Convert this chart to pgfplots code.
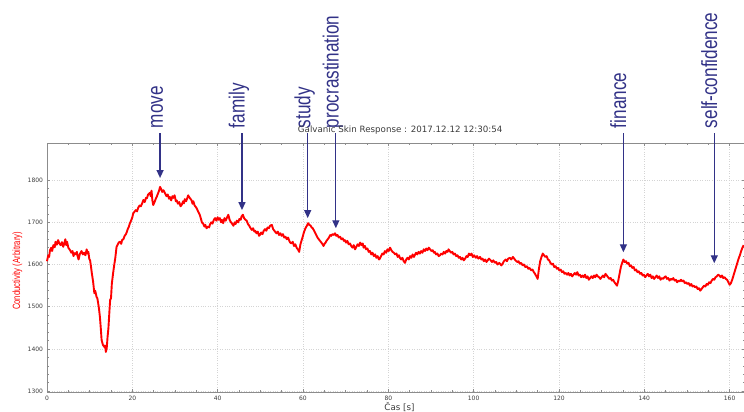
\documentclass[border=0pt]{standalone}
\usepackage{fontspec}
\setmainfont{DejaVu Sans}
\newfontfamily\libsans{Liberation Sans}
\usepackage{pgfplots}
\pgfplotsset{compat=1.18}
\usetikzlibrary{arrows.meta}
\definecolor{annot}{RGB}{50,50,135}
\definecolor{axgray}{RGB}{140,140,140}
\definecolor{gridgray}{RGB}{212,212,212}
\definecolor{ticktext}{RGB}{60,60,60}
\pgfplotstableread{
x v
0.0 1608
0.3 1622
0.5 1618
0.7 1634
1.0 1640
1.2 1632
1.5 1646
1.8 1641
2.0 1654
2.3 1647
2.6 1658
2.9 1650
3.2 1646
3.5 1653
3.8 1642
4.1 1652
4.3 1660
4.5 1646
4.7 1654
5.0 1640
5.4 1634
5.7 1628
6.0 1632
6.2 1620
6.5 1627
6.8 1624
7.0 1630
7.2 1619
7.4 1612
7.7 1625
8.1 1632
8.4 1624
8.7 1628
9.0 1622
9.3 1636
9.5 1626
9.7 1630
9.9 1614
10.1 1610
10.3 1596
10.5 1580
10.8 1560
11.1 1532
11.3 1538
11.6 1524
11.8 1520
12.0 1508
12.2 1494
12.4 1476
12.6 1450
12.8 1421
13.1 1410
13.4 1405
13.6 1408
13.8 1393
14.0 1402
14.2 1429
14.4 1450
14.6 1484
14.8 1516
15.0 1520
15.2 1555
15.5 1580
15.7 1595
16.0 1615
16.3 1642
16.6 1648
16.8 1652
17.1 1654
17.4 1649
17.6 1658
17.9 1660
18.2 1668
18.5 1672
18.7 1677
19.0 1686
19.2 1690
19.4 1697
19.7 1704
20.0 1712
20.2 1721
20.5 1725
20.8 1729
21.1 1726
21.4 1735
21.7 1740
22.0 1738
22.3 1745
22.6 1753
22.9 1748
23.2 1758
23.4 1757
23.7 1766
24.1 1770
24.3 1762
24.5 1775
24.7 1752
24.9 1741
25.2 1748
25.5 1756
25.7 1760
26.0 1768
26.3 1776
26.5 1784
26.8 1778
27.0 1772
27.3 1776
27.7 1768
28.0 1762
28.3 1766
28.6 1756
28.8 1760
29.1 1752
29.4 1762
29.6 1758
29.9 1764
30.2 1750
30.4 1752
30.7 1744
31.0 1748
31.3 1738
31.6 1742
31.9 1750
32.1 1745
32.3 1755
32.6 1750
32.9 1758
33.1 1764
33.3 1760
33.6 1756
33.9 1752
34.1 1744
34.3 1750
34.6 1740
34.9 1736
35.1 1733
35.4 1726
35.6 1722
35.8 1718
36.1 1708
36.3 1700
36.6 1697
36.9 1690
37.1 1694
37.4 1686
37.7 1690
38.0 1688
38.2 1695
38.5 1700
38.8 1697
39.1 1706
39.4 1710
39.7 1704
40.0 1712
40.2 1706
40.5 1710
40.8 1700
41.0 1706
41.3 1698
41.6 1710
41.9 1704
42.2 1712
42.5 1718
42.8 1706
43.0 1702
43.3 1698
43.7 1692
44.0 1700
44.2 1696
44.5 1704
44.8 1700
45.1 1708
45.4 1706
45.6 1714
45.9 1718
46.2 1710
46.5 1706
46.8 1704
47.1 1696
47.4 1692
47.6 1688
48.0 1682
48.3 1686
48.6 1678
48.8 1680
49.1 1674
49.4 1678
49.7 1668
49.9 1670
50.2 1676
50.5 1672
50.8 1680
51.1 1684
51.4 1680
51.7 1688
52.0 1686
52.3 1692
52.7 1694
53.0 1684
53.3 1680
53.6 1676
53.8 1674
54.1 1678
54.4 1670
54.7 1674
55.0 1668
55.3 1672
55.6 1664
55.9 1666
56.2 1660
56.5 1664
56.8 1656
57.0 1652
57.3 1650
57.6 1654
57.9 1644
58.2 1648
58.5 1640
58.8 1636
59.1 1630
59.4 1648
59.7 1658
60.0 1668
60.2 1676
60.5 1684
60.8 1690
61.0 1694
61.2 1698
61.5 1694
61.8 1692
62.0 1688
62.3 1686
62.6 1680
62.8 1676
63.1 1670
63.4 1664
63.7 1660
64.0 1656
64.3 1652
64.6 1648
64.8 1644
65.1 1650
65.3 1652
65.5 1656
65.8 1660
66.1 1664
66.4 1670
66.6 1668
66.9 1672
67.2 1670
67.5 1674
67.8 1668
68.1 1670
68.4 1664
68.7 1666
69.0 1660
69.3 1662
69.6 1656
69.8 1658
70.1 1652
70.4 1656
70.7 1648
71.0 1650
71.3 1644
71.6 1640
71.9 1646
72.2 1636
72.5 1642
72.8 1648
73.1 1644
73.4 1652
73.7 1646
74.0 1650
74.2 1640
74.5 1644
74.8 1636
75.1 1638
75.4 1630
75.7 1632
76.0 1624
76.3 1628
76.6 1620
76.9 1624
77.2 1616
77.5 1620
77.8 1612
78.0 1614
78.3 1620
78.6 1626
78.9 1624
79.2 1632
79.5 1628
79.8 1636
80.1 1632
80.4 1640
80.7 1634
81.0 1630
81.3 1628
81.6 1624
81.9 1626
82.2 1618
82.5 1622
82.7 1616
83.0 1612
83.3 1616
83.6 1608
83.9 1604
84.2 1612
84.5 1616
84.8 1612
85.1 1620
85.4 1616
85.7 1624
86.0 1618
86.2 1622
86.5 1628
86.8 1624
87.1 1630
87.4 1626
87.7 1632
88.0 1628
88.3 1636
88.6 1632
88.9 1638
89.2 1634
89.5 1640
89.8 1636
90.1 1632
90.4 1634
90.7 1628
90.9 1630
91.2 1624
91.5 1626
91.8 1620
92.1 1622
92.4 1626
92.7 1624
93.0 1630
93.3 1626
93.6 1632
93.9 1630
94.1 1636
94.4 1632
94.7 1628
95.0 1630
95.3 1624
95.6 1626
95.9 1620
96.2 1622
96.5 1616
96.8 1618
97.1 1612
97.4 1616
97.7 1610
98.0 1614
98.3 1620
98.6 1618
98.9 1626
99.2 1622
99.5 1626
99.8 1618
100.1 1622
100.5 1616
100.8 1620
101.1 1614
101.5 1618
101.8 1612
102.1 1614
102.4 1608
102.7 1612
103.0 1606
103.3 1610
103.6 1614
104.0 1610
104.3 1606
104.6 1610
105.0 1604
105.3 1606
105.6 1600
106.0 1604
106.5 1598
106.8 1602
107.1 1608
107.5 1612
107.8 1608
108.1 1614
108.5 1616
108.8 1612
109.2 1618
109.5 1614
109.8 1610
110.2 1606
110.5 1608
110.8 1602
111.1 1604
111.5 1598
111.8 1600
112.1 1594
112.5 1596
112.8 1590
113.1 1592
113.5 1586
113.8 1588
114.1 1582
114.4 1578
114.7 1572
115.0 1566
115.3 1590
115.6 1608
115.9 1618
116.2 1626
116.5 1622
116.8 1618
117.1 1620
117.4 1612
117.7 1610
118.0 1604
118.3 1600
118.6 1602
118.9 1594
119.2 1596
119.5 1590
119.8 1592
120.1 1586
120.4 1588
120.7 1582
121.0 1584
121.3 1578
121.6 1580
121.9 1576
122.2 1580
122.5 1574
122.8 1578
123.1 1572
123.4 1576
123.7 1580
124.0 1576
124.3 1582
124.6 1574
124.9 1576
125.2 1570
125.5 1574
125.8 1570
126.1 1576
126.4 1568
126.7 1572
127.0 1564
127.3 1568
127.6 1572
127.9 1568
128.2 1574
128.5 1570
128.8 1576
129.1 1572
129.4 1570
129.7 1566
130.0 1570
130.3 1574
130.6 1570
130.9 1578
131.2 1574
131.5 1570
131.8 1566
132.1 1568
132.4 1562
132.7 1564
133.0 1558
133.3 1554
133.6 1550
133.9 1562
134.2 1578
134.5 1594
134.8 1604
135.1 1612
135.4 1606
135.7 1608
136.0 1602
136.3 1604
136.6 1596
136.9 1598
137.2 1592
137.5 1594
137.8 1586
138.1 1588
138.4 1582
138.7 1584
139.0 1578
139.3 1580
139.6 1574
139.9 1576
140.2 1570
140.5 1574
140.8 1578
141.1 1572
141.4 1576
141.7 1568
142.0 1572
142.3 1566
142.6 1570
142.9 1574
143.2 1568
143.5 1572
143.8 1564
144.1 1568
144.4 1566
144.7 1570
145.0 1572
145.3 1566
145.6 1568
145.9 1562
146.2 1566
146.5 1564
146.8 1568
147.1 1562
147.4 1564
147.7 1558
148.0 1562
148.3 1560
148.6 1564
148.9 1560
149.2 1562
149.5 1556
149.8 1558
150.1 1554
150.4 1556
150.7 1550
151.0 1554
151.3 1548
151.6 1550
151.9 1546
152.2 1548
152.5 1542
152.8 1544
153.1 1538
153.4 1542
153.7 1546
154.0 1550
154.3 1548
154.6 1554
154.9 1552
155.2 1558
155.5 1556
155.8 1562
156.1 1566
156.4 1564
156.7 1570
157.0 1572
157.3 1576
157.6 1574
157.9 1570
158.2 1574
158.5 1568
158.8 1570
159.1 1566
159.4 1564
159.7 1558
160.0 1552
160.3 1556
160.6 1564
160.9 1574
161.2 1584
161.5 1594
161.8 1604
162.1 1614
162.4 1622
162.7 1632
163.0 1640
163.3 1646
}\gsr
\begin{document}
\begin{tikzpicture}[x=1pt,y=1pt]
\begin{axis}[
  at={(47pt,20pt)}, anchor=south west,
  scale only axis, width=698pt, height=249pt,
  xmin=0, xmax=163.6, ymin=1298, ymax=1888,
  clip=false,
  xtick={0,20,...,160}, ytick={1300,1400,...,1800},
  minor x tick num=3, minor y tick num=4,
  tick align=inside, major tick length=3pt, minor tick length=2pt,
  every tick/.style={axgray, line width=0.5pt},
  axis line style={axgray, line width=0.8pt},
  grid=major, major grid style={gridgray, dotted, line width=0.7pt},
  ticklabel style={font=\fontsize{6}{7}\selectfont, text=ticktext},
  /pgf/number format/assume math mode=true,
  /pgf/number format/1000 sep={},
  xticklabel style={yshift=-1pt},
  yticklabel style={xshift=-0.5pt},
  title={Galvanic Skin Response : 2017.12.12 12:30:54},
  title style={at={(axis description cs:0.506,1)}, anchor=south, inner sep=0pt, yshift=2.5pt, font=\fontsize{8.7}{10}\selectfont, text=ticktext},
  xlabel={Čas [s]},
  xlabel style={at={(axis description cs:0.505,-0.06)}, anchor=center, font=\fontsize{8.7}{10}\selectfont, text=ticktext},
  ylabel={\scalebox{0.73}[1]{Conductivity (Arbitrary)}},
  ylabel style={at={(axis description cs:-0.0423,0.486)}, anchor=center, font=\libsans\fontsize{10.5}{12}\selectfont, text=red},
]
\addplot[red, line width=1.9pt, line join=round] table[x=x, y=v] {\gsr};
\foreach \xx/\tip/\lab in {26.5/1805/move, 45.7/1729/family, 61.1/1710/study, 67.7/1686/procrastination, 135.1/1629/finance, 156.4/1603/self-confidence}{
  \edef\tmp{\noexpand\draw[annot, line width=1.3pt, -{Triangle[width=7pt,length=8pt]}] (axis cs:\xx,1911) -- (axis cs:\xx,\tip);}\tmp
  \edef\tmp{\noexpand\node[rotate=90, anchor=mid west, inner sep=0pt, text=annot, font=\noexpand\libsans\noexpand\fontsize{22}{22}\noexpand\selectfont] at (axis cs:\xx,1923) {\noexpand\scalebox{0.78}[1]{\lab}};}\tmp
}
\end{axis}
\pgfresetboundingbox
\path (0,0) rectangle (744,412);
\end{tikzpicture}
\end{document}
